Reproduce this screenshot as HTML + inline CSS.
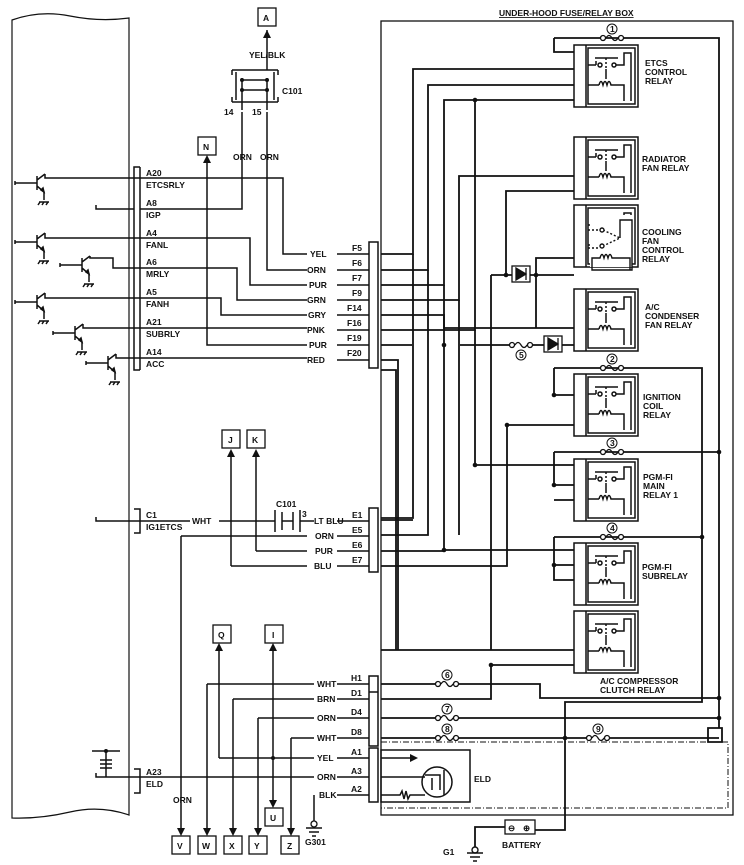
<!DOCTYPE html>
<html><head><meta charset="utf-8"><style>
html,body{margin:0;padding:0;background:#fff}
svg{display:block}
text{font-family:"Liberation Sans",Arial,sans-serif;font-weight:bold;font-size:8.5px;fill:#111}
</style></head><body>
<svg width="744" height="865" viewBox="0 0 744 865" xmlns="http://www.w3.org/2000/svg">
<defs>
<g id="rel" fill="none" stroke="#111" stroke-width="1.5">
<rect x="0" y="0" width="64" height="62" fill="#fff"/>
<line x1="12" y1="0" x2="12" y2="62"/>
<rect x="14" y="3" width="47" height="56"/>
<path d="M14 20 H22 M22 20 v-4 M21 13 H44 M42 20 H50 V8 H57 V56"/>
<circle cx="26" cy="20" r="2" fill="#fff"/><circle cx="40" cy="20" r="2" fill="#fff"/>
<path d="M32 13 V24" stroke-dasharray="2 2"/>
<path d="M14 40 H25 M25 40 q2 -7 4 0 q2 -7 4 0 q2 -7 4 0 H50 V56 M32 24 V34"/>
</g>
<g id="fuse" fill="none" stroke="#111" stroke-width="1.3">
<circle cx="-9" cy="0" r="2.5" fill="#fff"/><circle cx="9" cy="0" r="2.5" fill="#fff"/>
<path d="M-6 0 q3 -5 6 0 q3 5 6 0"/>
</g>
<g id="tr" fill="none" stroke="#111" stroke-width="1.5">
<path d="M-22 -2 v4 M-22 0 H0 M0 -7 V7 M0 -3 L8 -9 M0 3 L7 9 V17 M2 19 H12 M3 19 l-2 3 M7 19 l-2 3 M11 19 l-2 3"/>
<path d="M4 7 l3 2 l-1 -4 z" fill="#111"/>
</g>
<g id="box"><rect x="0" y="0" width="18" height="18" fill="#fff" stroke="#111" stroke-width="1.3"/></g>
</defs>

<!-- ECM body -->
<path d="M12 20 Q40 10 70 16 T129 18 V815 Q100 805 70 812 T12 818 Z" fill="none" stroke="#111" stroke-width="1.2"/>

<!-- transistors -->
<use href="#tr" x="37" y="183"/><path d="M45 174 V178 H140 M45 174 H45" stroke="#111" stroke-width="1.5" fill="none"/>
<use href="#tr" x="37" y="242"/><path d="M45 233 V238 H140" stroke="#111" stroke-width="1.5" fill="none"/>
<use href="#tr" x="82" y="265"/><path d="M90 256 V258 H113 V268 H140" stroke="#111" stroke-width="1.5" fill="none"/>
<use href="#tr" x="37" y="302"/><path d="M45 293 V298 H140" stroke="#111" stroke-width="1.5" fill="none"/>
<use href="#tr" x="75" y="333"/><path d="M83 324 V328 H140" stroke="#111" stroke-width="1.5" fill="none"/>
<use href="#tr" x="108" y="363"/><path d="M116 354 V358 H140" stroke="#111" stroke-width="1.5" fill="none"/>

<g stroke="#111" stroke-width="1.5" fill="none">
<!-- A connector bracket -->
<path d="M140 167 H134 V370 H140 M140 167 V370"/>
<path d="M96 205 v4 H134"/>
<path d="M140 178 H283 V254 H307"/>
<path d="M140 209 H242 V112"/>
<path d="M267 112 V270 H307"/>
<path d="M140 238 H250 V285 H307"/>
<path d="M140 268 H237 V300 H307"/>
<path d="M140 298 H221 V315 H307"/>
<path d="M140 328 H307"/>
<path d="M207 160 V345 H307"/>
<path d="M140 358 H307"/>
<!-- F stub lines -->
<path d="M337 254 H369 M337 270 H369 M337 285 H369 M337 300 H369 M337 315 H369 M337 330 H369 M337 345 H369 M337 360 H369"/>
<path d="M369 242 H378 V368 H369 Z"/>
<!-- C101 top -->
<path d="M267 30 V70"/>
<path d="M232 70 H278 M236 72 V100 M274 72 V100 M232 102 H278 M242 78 V95 M267 78 V95 M242 80 H267 M242 90 H267 M232 70 v5 M278 70 v5 M232 102 v-5 M278 102 v-5"/>
<path d="M242 95 V110 M267 95 V110"/>
</g>
<circle cx="242" cy="80" r="2" fill="#111"/><circle cx="267" cy="80" r="2" fill="#111"/>
<circle cx="242" cy="90" r="2" fill="#111"/><circle cx="267" cy="90" r="2" fill="#111"/>
<path d="M267 30 l-4 8 h8 z M207 155 l-4 8 h8 z" fill="#111"/>
<use href="#box" x="258" y="8"/><text x="263" y="21">A</text>
<use href="#box" x="198" y="137"/><text x="203" y="150">N</text>
<text x="249" y="58">YEL/BLK</text><text x="282" y="94">C101</text>
<text x="224" y="115">14</text><text x="252" y="115">15</text>
<text x="233" y="160">ORN</text><text x="260" y="160">ORN</text>

<text x="146" y="176">A20</text><text x="146" y="188">ETCSRLY</text>
<text x="146" y="206">A8</text><text x="146" y="218">IGP</text>
<text x="146" y="236">A4</text><text x="146" y="248">FANL</text>
<text x="146" y="265">A6</text><text x="146" y="277">MRLY</text>
<text x="146" y="295">A5</text><text x="146" y="307">FANH</text>
<text x="146" y="325">A21</text><text x="146" y="337">SUBRLY</text>
<text x="146" y="355">A14</text><text x="146" y="367">ACC</text>
<g>
<text x="310" y="257">YEL</text><text x="307" y="273">ORN</text><text x="309" y="288">PUR</text>
<text x="307" y="303">GRN</text><text x="308" y="318">GRY</text><text x="307" y="333">PNK</text>
<text x="309" y="348">PUR</text><text x="307" y="363">RED</text>
<text x="352" y="251">F5</text><text x="352" y="266">F6</text><text x="352" y="281">F7</text>
<text x="352" y="296">F9</text><text x="347" y="311">F14</text><text x="347" y="326">F16</text>
<text x="347" y="341">F19</text><text x="347" y="356">F20</text>
</g>

<!-- E section -->
<g stroke="#111" stroke-width="1.5" fill="none">
<path d="M134 509 H140 V533 H134"/>
<path d="M96 517 v4 H190 M219 521 H275 M300 521 H314"/>
<path d="M275 510 V532 M300 510 V532 M282 512 V530 M293 512 V530 M282 521 H293"/>
<path d="M181 536 H307 M256 551 H307 M231 566 H307"/>
<path d="M256 455 V551 M231 455 V566 M181 536 V830"/>
<path d="M337 521 H369 M337 536 H369 M337 551 H369 M337 566 H369"/>
<path d="M369 508 H378 V572 H369 Z"/>
</g>
<path d="M256 449 l-4 8 h8 z M231 449 l-4 8 h8 z M181 836 l-4 -8 h8 z" fill="#111"/>
<use href="#box" x="222" y="430"/><text x="228" y="443">J</text>
<use href="#box" x="247" y="430"/><text x="252" y="443">K</text>
<text x="146" y="518">C1</text><text x="146" y="530">IG1ETCS</text>
<text x="192" y="524">WHT</text><text x="276" y="507">C101</text><text x="302" y="517">3</text>
<text x="314" y="524">LT BLU</text><text x="315" y="539">ORN</text><text x="315" y="554">PUR</text><text x="314" y="569">BLU</text>
<text x="352" y="518">E1</text><text x="352" y="533">E5</text><text x="352" y="548">E6</text><text x="352" y="563">E7</text>

<!-- bottom left -->
<g stroke="#111" stroke-width="1.5" fill="none">
<path d="M134 769 H140 V793 H134"/>
<path d="M92 751 H120 M106 751 V777 M100 760 h12 M100 764 h12 M100 768 h12 M96 773 v4 H314 M207 684 H314 M233 699 H314 M258 718 H314 M291 738 H314 M219 758 H314"/>
<path d="M207 684 V830 M233 699 V830 M258 718 V830 M291 738 V830 M219 648 V758 M273 648 V802"/>
<path d="M314 795 V818 M314 818 v3 M306 828 h16 M309 832 h10 M312 836 h4"/>
<path d="M337 684 H369 M337 699 H369 M337 718 H369 M337 738 H369 M337 758 H369 M337 777 H369 M337 795 H369"/>
<path d="M369 676 H378 V692 H369 Z M369 692 H378 V746 H369 Z M369 748 H378 V802 H369 Z"/>
</g>
<circle cx="106" cy="751" r="2" fill="#111"/><circle cx="273" cy="758" r="2" fill="#111"/>
<circle cx="314" cy="824" r="3" fill="#fff" stroke="#111" stroke-width="1.3"/>
<path d="M219 643 l-4 8 h8 z M273 643 l-4 8 h8 z M273 808 l-4 -8 h8 z M207 836 l-4 -8 h8 z M233 836 l-4 -8 h8 z M258 836 l-4 -8 h8 z M291 836 l-4 -8 h8 z" fill="#111"/>
<use href="#box" x="213" y="625"/><text x="218" y="638">Q</text>
<use href="#box" x="265" y="625"/><text x="272" y="638">I</text>
<use href="#box" x="265" y="808"/><text x="270" y="821">U</text>
<use href="#box" x="172" y="836"/><text x="177" y="849">V</text>
<use href="#box" x="198" y="836"/><text x="202" y="849">W</text>
<use href="#box" x="224" y="836"/><text x="229" y="849">X</text>
<use href="#box" x="249" y="836"/><text x="254" y="849">Y</text>
<use href="#box" x="281" y="836"/><text x="287" y="849">Z</text>
<text x="305" y="845">G301</text><text x="173" y="803">ORN</text>
<text x="146" y="775">A23</text><text x="146" y="787">ELD</text>
<text x="317" y="687">WHT</text><text x="317" y="702">BRN</text><text x="317" y="721">ORN</text><text x="317" y="741">WHT</text>
<text x="317" y="761">YEL</text><text x="317" y="780">ORN</text><text x="319" y="798">BLK</text>
<text x="351" y="681">H1</text><text x="351" y="696">D1</text><text x="351" y="715">D4</text><text x="351" y="735">D8</text>
<text x="351" y="755">A1</text><text x="351" y="774">A3</text><text x="351" y="792">A2</text>

<!-- fuse box -->
<rect x="381" y="21" width="352" height="794" fill="none" stroke="#111" stroke-width="1.3"/>
<text x="499" y="16" text-decoration="underline">UNDER-HOOD FUSE/RELAY BOX</text>
<rect x="381" y="742" width="347" height="66" fill="none" stroke="#111" stroke-width="1" stroke-dasharray="6 2 1 2"/>

<g stroke="#111" stroke-width="1.8" fill="none">
<!-- F rows inside -->
<path d="M381 254 H413 V69 H574"/>
<path d="M381 270 H428 V85 H574"/>
<path d="M381 285 H444 V100 H574"/>
<path d="M381 300 H459 V176 H574"/>
<path d="M381 315 H444 V328 H574"/>
<path d="M381 330 H475 V100"/>
<path d="M381 345 H412 M460 345 H510 M532 345 H574"/>
<path d="M381 360 H398 V650"/>
<path d="M413 254 V518 H381"/>
<path d="M475 330 V465 H574"/>
<path d="M428 270 V535 H381"/>
<path d="M444 285 V550 H574"/>
<path d="M459 300 V535"/>
<path d="M381 566 H507 V425 H574"/>
<path d="M381 551 H444"/>
<path d="M381 520 H413"/>
<path d="M491 275 H574 M536 275 V258 H574 M506 275 V191 H574 M491 275 V650 M536 275 V328"/>
<path d="M381 370 H396 V650 H574 M381 650 H396"/>
<path d="M491 665 H574"/>
<path d="M554 38 V52 H574 M554 38 H719 V718"/>
<path d="M554 368 V395 H574 M554 368 H702 V702 H565 V795"/>
<path d="M554 452 V485 H574 M554 452 H719"/>
<path d="M554 537 V580 H574 M554 537 H702 M554 565 H574 M554 500 H574"/>
<path d="M381 684 H437 M457 684 H540 V698 H719"/>
<path d="M381 699 H491 V665"/>
<path d="M381 718 H437 M457 718 H719 V728"/>
<path d="M381 738 H437 M457 738 H588 M608 738 H719"/>
<path d="M708 728 H722 V742 H708 Z"/>
<path d="M565 795 V830 H535 M505 827 H475 V848"/>
</g>
<g fill="#111">
<circle cx="475" cy="100" r="2.3"/><circle cx="536" cy="275" r="2.3"/><circle cx="506" cy="275" r="2.3"/>
<circle cx="444" cy="345" r="2.3"/><circle cx="554" cy="395" r="2.3"/><circle cx="475" cy="465" r="2.3"/>
<circle cx="507" cy="425" r="2.3"/><circle cx="554" cy="485" r="2.3"/><circle cx="719" cy="452" r="2.3"/>
<circle cx="702" cy="537" r="2.3"/><circle cx="554" cy="565" r="2.3"/><circle cx="491" cy="665" r="2.3"/>
<circle cx="719" cy="698" r="2.3"/><circle cx="719" cy="718" r="2.3"/><circle cx="565" cy="738" r="2.3"/>
<circle cx="444" cy="550" r="2.3"/>
</g>
<!-- diodes -->
<g stroke="#111" stroke-width="1.3">
<rect x="512" y="266" width="18" height="16" fill="#fff"/><path d="M516 268 v12 l10 -6 z M526 268 v12" fill="#111"/>
<rect x="544" y="336" width="18" height="16" fill="#fff"/><path d="M548 338 v12 l10 -6 z M558 338 v12" fill="#111"/>
</g>
<!-- fuses -->
<use href="#fuse" x="612" y="38"/><use href="#fuse" x="612" y="368"/><use href="#fuse" x="612" y="452"/>
<use href="#fuse" x="612" y="537"/><use href="#fuse" x="521" y="345"/><use href="#fuse" x="447" y="684"/>
<use href="#fuse" x="447" y="718"/><use href="#fuse" x="447" y="738"/><use href="#fuse" x="598" y="738"/>
<g fill="#fff" stroke="#111" stroke-width="1">
<circle cx="612" cy="29" r="5"/><circle cx="612" cy="359" r="5"/><circle cx="612" cy="443" r="5"/>
<circle cx="612" cy="528" r="5"/><circle cx="521" cy="355" r="5"/><circle cx="447" cy="675" r="5"/>
<circle cx="447" cy="709" r="5"/><circle cx="447" cy="729" r="5"/><circle cx="598" cy="729" r="5"/>
</g>
<g style="font-size:7px"><text x="610" y="32">1</text><text x="610" y="362">2</text><text x="610" y="446">3</text><text x="610" y="531">4</text>
<text x="519" y="358">5</text><text x="445" y="678">6</text><text x="445" y="712">7</text><text x="445" y="732">8</text><text x="596" y="732">9</text></g>

<!-- relays -->
<use href="#rel" x="574" y="45"/><use href="#rel" x="574" y="137"/><use href="#rel" x="574" y="205"/>
<use href="#rel" x="574" y="289"/><use href="#rel" x="574" y="374"/><use href="#rel" x="574" y="459"/>
<use href="#rel" x="574" y="543"/><use href="#rel" x="574" y="611"/>
<rect x="590" y="215" width="42" height="52" fill="#fff"/>
<g stroke="#111" stroke-width="1.4" fill="none">
<path d="M588 230 H600 M588 248 H600 M603 230 L620 238 L603 246" stroke-dasharray="2 2"/>
<circle cx="602" cy="230" r="2" fill="#fff"/><circle cx="602" cy="246" r="2" fill="#fff"/>
<path d="M620 238 V220 H632 V270 H592 V258 H600 q2 -7 4 0 q2 -7 4 0 q2 -7 4 0 H630 V270"/>
</g>
<text x="645" y="66">ETCS</text><text x="645" y="75">CONTROL</text><text x="645" y="84">RELAY</text>
<text x="642" y="162">RADIATOR</text><text x="642" y="171">FAN RELAY</text>
<text x="642" y="235">COOLING</text><text x="642" y="244">FAN</text><text x="642" y="253">CONTROL</text><text x="642" y="262">RELAY</text>
<text x="645" y="310">A/C</text><text x="645" y="319">CONDENSER</text><text x="645" y="328">FAN RELAY</text>
<text x="643" y="400">IGNITION</text><text x="643" y="409">COIL</text><text x="643" y="418">RELAY</text>
<text x="643" y="480">PGM-FI</text><text x="643" y="489">MAIN</text><text x="643" y="498">RELAY 1</text>
<text x="642" y="570">PGM-FI</text><text x="642" y="579">SUBRELAY</text>
<text x="600" y="684">A/C COMPRESSOR</text><text x="600" y="693">CLUTCH RELAY</text>

<!-- ELD -->
<g stroke="#111" stroke-width="1.5" fill="none">
<rect x="381" y="750" width="89" height="52"/>
<path d="M381 758 H410 M381 777 H425 M381 795 H400 l2 -4 2 8 2 -8 2 8 2 -4 H425"/>
<circle cx="437" cy="782" r="15"/>
<path d="M425 775 H440 V790 M432 790 V778 M444 770 V795"/>
</g>
<path d="M410 754 l8 4 l-8 4 z" fill="#111"/>
<text x="474" y="782">ELD</text>
<!-- battery -->
<rect x="505" y="820" width="30" height="14" fill="#fff" stroke="#111" stroke-width="1.3"/>
<text x="508" y="831">⊖</text><text x="523" y="831">⊕</text>
<text x="502" y="848">BATTERY</text>
<g stroke="#111" stroke-width="1.4" fill="none"><circle cx="475" cy="850" r="3" fill="#fff"/><path d="M467 853 h16 M470 857 h10 M473 861 h4"/></g>
<text x="443" y="855">G1</text>
</svg>
</body></html>
